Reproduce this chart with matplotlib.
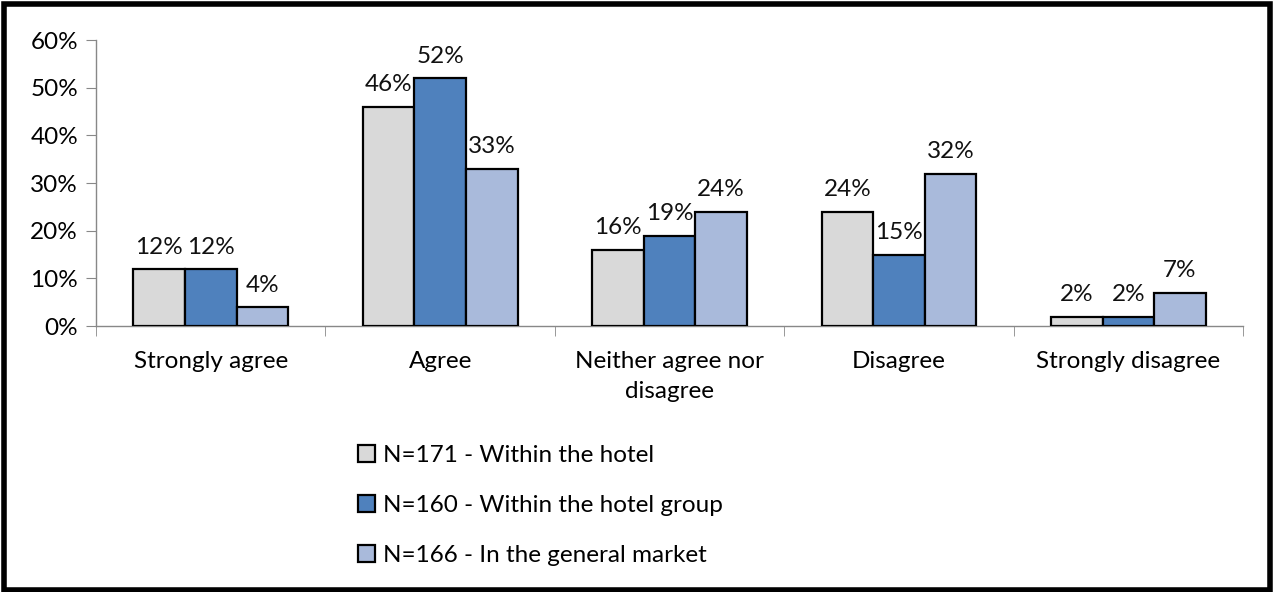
import numpy as np
import matplotlib.pyplot as plt
from matplotlib.patches import Rectangle
from matplotlib.ticker import MultipleLocator, PercentFormatter

plt.rcParams['font.family'] = ['Lato', 'DejaVu Sans']

categories = ['Strongly agree', 'Agree', 'Neither agree nor\ndisagree',
              'Disagree', 'Strongly disagree']
series = ['N=171 - Within the hotel', 'N=160 - Within the hotel group',
          'N=166 - In the general market']
hotel = [12, 46, 16, 24, 2]
hotel_group = [12, 52, 19, 15, 2]
general_market = [4, 33, 24, 32, 7]
colors = ['#D9D9D9', '#4F81BD', '#A9BADB']

fs = 17.5
fig = plt.figure(figsize=(12.74, 5.92), dpi=100)
ax = fig.add_axes([0.0754, 0.449, 0.9003, 0.4834])

x = np.arange(len(categories))
width = 0.225
for i, (vals, col, lab) in enumerate(zip([hotel, hotel_group, general_market], colors, series)):
    pos = x + (i - 1) * width
    bars = ax.bar(pos, vals, width, color=col, edgecolor='black', linewidth=1.6,
                  label=lab, zorder=3)
    for b, v in zip(bars, vals):
        ax.text(b.get_x() + b.get_width() / 2, v + 2.4, f'{v}%', ha='center',
                va='bottom', fontsize=fs, color='#111111')

ax.set_xlim(-0.5, len(categories) - 0.5)
ax.set_ylim(0, 60)
ax.yaxis.set_major_locator(MultipleLocator(10))
ax.yaxis.set_major_formatter(PercentFormatter(decimals=0))
ax.set_xticks(x)
ax.set_xticklabels(categories, fontsize=fs, linespacing=1.5)
ax.set_xticks(np.arange(-0.5, len(categories)), minor=True)
ax.tick_params(axis='x', which='major', length=0, pad=18)
ax.tick_params(axis='x', which='minor', length=7, color='#888888')
ax.tick_params(axis='y', length=7, color='#888888', labelsize=fs, pad=6)
for s in ['top', 'right']:
    ax.spines[s].set_visible(False)
for s in ['left', 'bottom']:
    ax.spines[s].set_color('#888888')
    ax.spines[s].set_linewidth(1)

leg = fig.legend(loc='upper left', bbox_to_anchor=(0.264, 0.286), frameon=False,
                 fontsize=fs, handlelength=0.7, handleheight=0.7,
                 handletextpad=0.3, labelspacing=1.2)

fig.add_artist(Rectangle((0.003, 0.004), 0.994, 0.99, transform=fig.transFigure,
                         fill=False, edgecolor='black', linewidth=4))

fig.savefig('out.png', dpi=100)
